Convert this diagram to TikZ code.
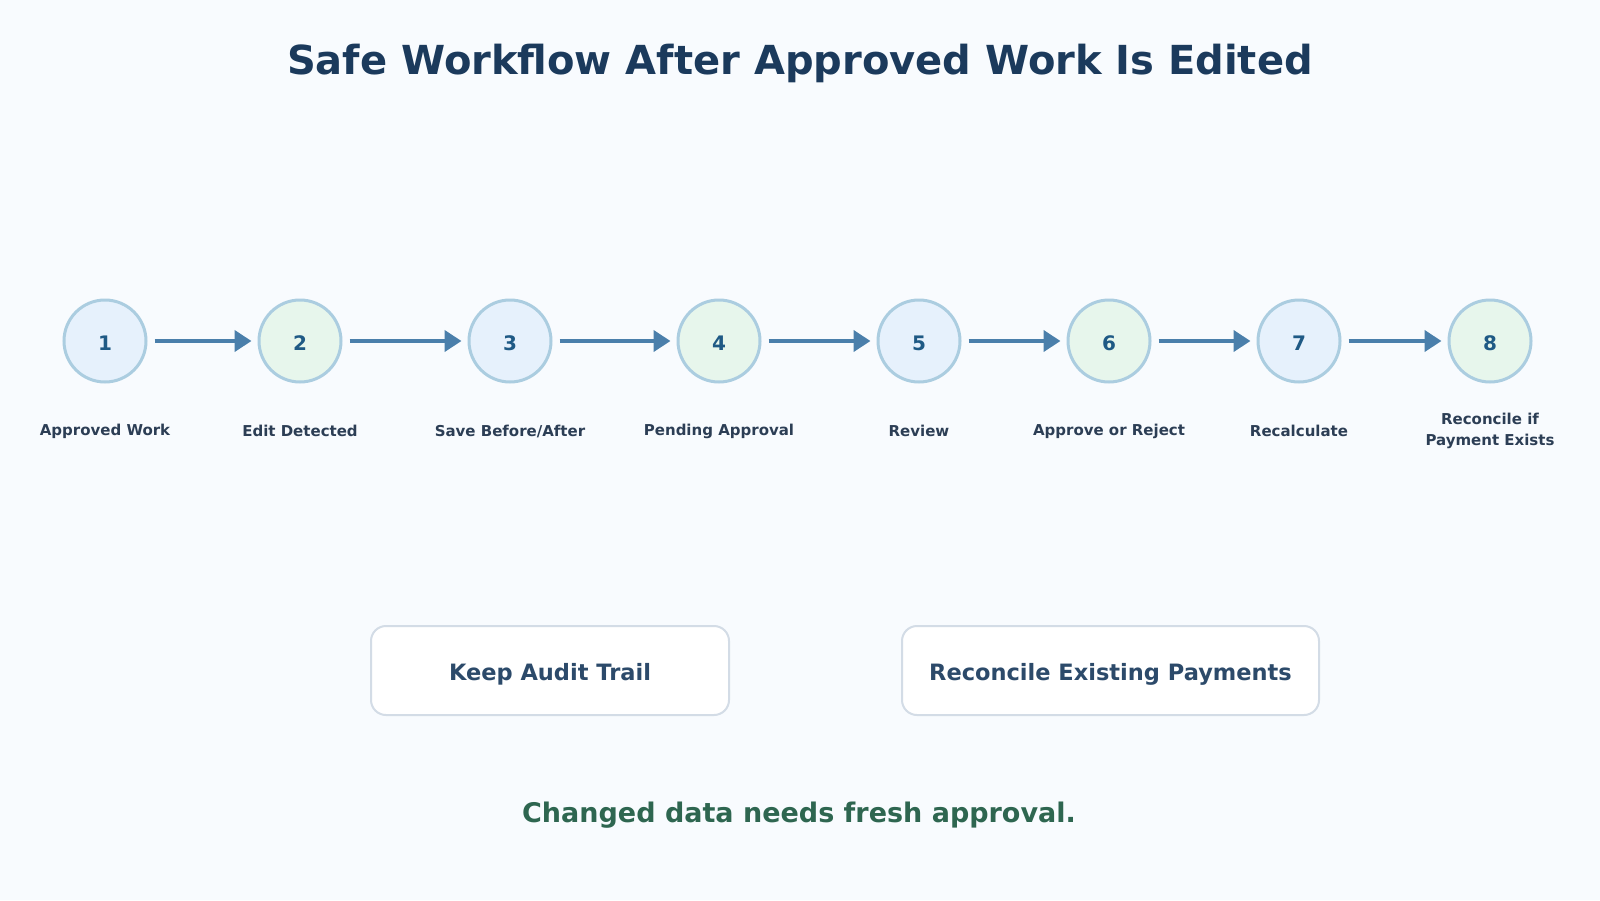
\documentclass[tikz,border=0pt]{standalone}
\usepackage{fontspec}
\setmainfont{DejaVu Sans}
\usetikzlibrary{arrows.meta}
\definecolor{bgcol}{HTML}{F8FBFE}
\definecolor{titlecol}{HTML}{1B3A5C}
\definecolor{labcol}{HTML}{2C3E55}
\definecolor{numcol}{HTML}{1F5A85}
\definecolor{arrcol}{HTML}{4A7FAB}
\definecolor{ringcol}{HTML}{ABCDE0}
\definecolor{bluefill}{HTML}{E6F1FC}
\definecolor{greenfill}{HTML}{E7F6EC}
\definecolor{boxline}{HTML}{D3DCE6}
\definecolor{boxtext}{HTML}{2C4A6A}
\definecolor{notecol}{HTML}{2E6650}
\tikzset{
  stepcirc/.style={circle, draw=ringcol, line width=1.5pt, minimum size=41pt, inner sep=0pt,
    font=\bfseries\fontsize{10}{12}\selectfont, text=numcol, text height=9.3pt, text depth=0pt},
  bluec/.style={stepcirc, fill=bluefill},
  greenc/.style={stepcirc, fill=greenfill},
  lab/.style={font=\bfseries\fontsize{7.5}{10.25}\selectfont, text=labcol, align=center, inner sep=0pt},
  flow/.style={draw=arrcol, line width=2pt, -{Triangle[length=8.5pt,width=10.5pt]},
    shorten <=3.5pt, shorten >=3pt},
  infobox/.style={draw=boxline, line width=1pt, fill=white, rounded corners=7.5pt,
    minimum height=44.5pt, font=\bfseries\fontsize{11.25}{13}\selectfont, text=boxtext,
    text height=10.2pt, text depth=0pt}
}
\begin{document}
\begin{tikzpicture}[x=0.5pt, y=-0.5pt]
\fill[bgcol] (0,0) rectangle (1600,900);
\useasboundingbox (0,0) rectangle (1600,900);
\node[font=\bfseries\fontsize{20}{24}\selectfont, text=titlecol] (title) at (800,63.5) {Safe Workflow After Approved Work Is Edited};
\node[bluec] (c1) at (105,341) {1};
\node[greenc] (c2) at (300,341) {2};
\node[bluec] (c3) at (510,341) {3};
\node[greenc] (c4) at (719,341) {4};
\node[bluec] (c5) at (919,341) {5};
\node[greenc] (c6) at (1109,341) {6};
\node[bluec] (c7) at (1299,341) {7};
\node[greenc] (c8) at (1490,341) {8};
\foreach \a/\b in {c1/c2,c2/c3,c3/c4,c4/c5,c5/c6,c6/c7,c7/c8}
  \draw[flow] (\a) -- (\b);
\node[lab] (l1) at (105,431) {Approved Work};
\node[lab] (l2) at (300,431) {Edit Detected};
\node[lab] (l3) at (510,431) {Save Before/After};
\node[lab] (l4) at (719,431) {Pending Approval};
\node[lab] (l5) at (919,431) {Review};
\node[lab] (l6) at (1109,431) {Approve or Reject};
\node[lab] (l7) at (1299,431) {Recalculate};
\node[lab] (l8) at (1490,431) {Reconcile if\\Payment Exists};
\node[infobox, minimum width=179pt] (b1) at (550,670.5) {Keep Audit Trail};
\node[infobox, minimum width=208.5pt] (b2) at (1110.5,670.5) {Reconcile Existing Payments};
\node[font=\bfseries\fontsize{13.5}{16}\selectfont, text=notecol] (note) at (799,815) {Changed data needs fresh approval.};
\end{tikzpicture}
\end{document}
